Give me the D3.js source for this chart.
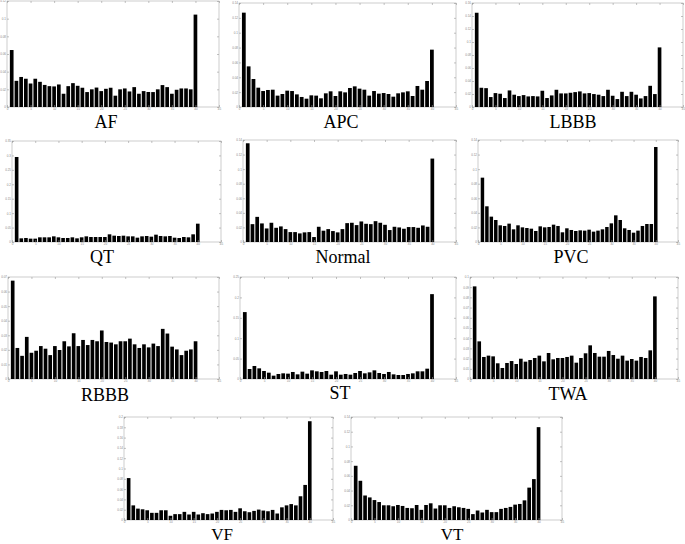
<!DOCTYPE html>
<html><head><meta charset="utf-8">
<script src="https://cdn.jsdelivr.net/npm/d3@7"></script>
<style>body{margin:0;background:#fff}svg{display:block}</style>
</head><body>
<svg id="c" width="685" height="544"></svg>
<script>
const bins = d3.range(1, 41);
const xTicks = [0,5,10,15,20,25,30,35,40,45];

const afValues = [0.0645,0.0296,0.034,0.032,0.0266,0.032,0.0285,0.025,0.0236,0.0233,0.0255,0.015,0.0236,0.027,0.024,0.0218,0.0169,0.020,0.022,0.018,0.0206,0.0218,0.0128,0.020,0.021,0.0176,0.0225,0.015,0.018,0.017,0.0169,0.020,0.0248,0.0225,0.015,0.0195,0.021,0.021,0.020,0.1046];
const afTicks = [0,0.02,0.04,0.06,0.08,0.1,0.12];

const apcValues = [0.127,0.0547,0.0377,0.026,0.0215,0.0229,0.0233,0.0153,0.0175,0.022,0.0215,0.017,0.0135,0.0112,0.0157,0.0153,0.0117,0.0184,0.0211,0.0148,0.0211,0.0197,0.0256,0.0278,0.0247,0.0233,0.0153,0.0215,0.018,0.0188,0.0175,0.0139,0.0184,0.0197,0.0211,0.0148,0.0283,0.0233,0.035,0.0772];
const apcTicks = [0,0.02,0.04,0.06,0.08,0.1,0.12,0.14];

const lbbbValues = [0.145,0.0296,0.029,0.0153,0.0214,0.0204,0.0138,0.0255,0.0189,0.0168,0.0183,0.0163,0.0168,0.0163,0.025,0.0138,0.0178,0.0265,0.0209,0.0209,0.0219,0.0229,0.024,0.0209,0.0214,0.0199,0.0189,0.0168,0.0265,0.0173,0.0122,0.0234,0.0168,0.0234,0.0189,0.0132,0.0168,0.0326,0.0199,0.0917];
const lbbbTicks = [0,0.02,0.04,0.06,0.08,0.1,0.12,0.14,0.16];

const qtValues = [0.2946,0.0127,0.0139,0.0116,0.0116,0.0162,0.0162,0.0162,0.0196,0.0162,0.0139,0.0139,0.0162,0.0127,0.0162,0.0196,0.0173,0.0173,0.0173,0.0173,0.0266,0.0219,0.0208,0.0219,0.0196,0.0196,0.015,0.0196,0.0208,0.0185,0.0254,0.0208,0.0196,0.0208,0.015,0.0139,0.0173,0.0162,0.0266,0.0635];
const qtTicks = [0,0.05,0.1,0.15,0.2,0.25,0.3,0.35];

const normalValues = [0.1355,0.0245,0.0345,0.0255,0.0186,0.0264,0.0195,0.0214,0.0177,0.0136,0.0136,0.0118,0.0132,0.0136,0.0068,0.0209,0.0155,0.0177,0.015,0.0132,0.0177,0.0259,0.0264,0.0232,0.0282,0.025,0.0245,0.0286,0.0264,0.0236,0.0164,0.0209,0.02,0.0182,0.0205,0.0205,0.0195,0.0227,0.0209,0.1145];
const normalTicks = [0,0.02,0.04,0.06,0.08,0.1,0.12,0.14];

const pvcValues = [0.0883,0.049,0.0348,0.0302,0.0229,0.022,0.0252,0.0174,0.0229,0.0201,0.0192,0.0183,0.0151,0.0215,0.0201,0.0206,0.0238,0.022,0.0133,0.0188,0.0165,0.0151,0.016,0.0156,0.0169,0.0142,0.0156,0.0174,0.0206,0.0256,0.0366,0.0302,0.0188,0.0165,0.0128,0.0156,0.022,0.0247,0.0247,0.1304];
const pvcTicks = [0,0.02,0.04,0.06,0.08,0.1,0.12,0.14];

const rbbbValues = [0.0675,0.0213,0.0159,0.0289,0.018,0.0194,0.0226,0.0208,0.0164,0.0226,0.0199,0.0259,0.0224,0.0314,0.0226,0.0268,0.0233,0.0268,0.0259,0.0333,0.0254,0.025,0.0238,0.0259,0.0259,0.0277,0.0238,0.0213,0.0238,0.0217,0.0243,0.0226,0.0344,0.0312,0.0222,0.0203,0.0164,0.0194,0.0203,0.0259];
const rbbbTicks = [0,0.01,0.02,0.03,0.04,0.05,0.06,0.07];

const stValues = [0.164,0.0245,0.0319,0.0261,0.0196,0.0155,0.0082,0.0123,0.0139,0.0131,0.0172,0.0114,0.018,0.0131,0.0212,0.0188,0.0172,0.0196,0.0106,0.0188,0.0106,0.0123,0.0106,0.0147,0.0196,0.0139,0.0163,0.0212,0.0147,0.0123,0.0172,0.0114,0.0098,0.0098,0.0123,0.0139,0.0188,0.0188,0.0253,0.208];
const stTicks = [0,0.05,0.1,0.15,0.2,0.25];

const twaValues = [0.0908,0.0369,0.0216,0.0229,0.0222,0.0154,0.0108,0.0157,0.0176,0.0147,0.0199,0.017,0.0186,0.0206,0.0229,0.0173,0.0255,0.0193,0.0206,0.0206,0.0216,0.0229,0.016,0.0206,0.0252,0.033,0.0255,0.0219,0.0219,0.0275,0.0235,0.0199,0.0229,0.018,0.0196,0.018,0.0216,0.0206,0.0281,0.081];
const twaTicks = [0,0.01,0.02,0.03,0.04,0.05,0.06,0.07,0.08,0.09,0.1];

const vfValues = [0.0814,0.0284,0.0221,0.0208,0.0189,0.0139,0.0139,0.0189,0.0189,0.0082,0.0114,0.0114,0.0158,0.0107,0.0158,0.0107,0.0132,0.0114,0.0126,0.0158,0.0196,0.0189,0.0196,0.0158,0.0227,0.017,0.0151,0.0177,0.0202,0.0183,0.017,0.0196,0.0126,0.0246,0.0284,0.0309,0.0284,0.0461,0.0681,0.1918];
const vfTicks = [0,0.02,0.04,0.06,0.08,0.1,0.12,0.14,0.16,0.18,0.2];

const vtValues = [0.0737,0.0533,0.0333,0.0307,0.0271,0.0244,0.02,0.02,0.0187,0.0204,0.0191,0.0164,0.016,0.0204,0.0138,0.0204,0.0227,0.0156,0.02,0.02,0.0164,0.0187,0.0173,0.0164,0.0151,0.008,0.0129,0.0102,0.0138,0.0107,0.0107,0.0151,0.0164,0.0178,0.0209,0.0218,0.0267,0.044,0.0556,0.1262];
const vtTicks = [0,0.02,0.04,0.06,0.08,0.1,0.12,0.14];

// layout (box: x0,y0,x1,y1 ; label: cx, baseline, size)
const panels = [
  {name:"AF",     values:afValues,     ticks:afTicks,     box:[7,1,219,107],     label:[106,128,18]},
  {name:"APC",    values:apcValues,    ticks:apcTicks,    box:[239,3,456,107],   label:[341,128,18]},
  {name:"LBBB",   values:lbbbValues,   ticks:lbbbTicks,   box:[472,3,683,107],   label:[573,128,18]},
  {name:"QT",     values:qtValues,     ticks:qtTicks,     box:[12,141,221,242],  label:[102,263,18]},
  {name:"Normal", values:normalValues, ticks:normalTicks, box:[243,140,456,242], label:[343,263,18]},
  {name:"PVC",    values:pvcValues,    ticks:pvcTicks,    box:[478,140,678,242], label:[571,263,18]},
  {name:"RBBB",   values:rbbbValues,   ticks:rbbbTicks,   box:[8,277,219,379],   label:[105,401,18]},
  {name:"ST",     values:stValues,     ticks:stTicks,     box:[240,277,456,379], label:[340,399,18]},
  {name:"TWA",    values:twaValues,    ticks:twaTicks,    box:[470,277,678,379], label:[568,400,18]},
  {name:"VF",     values:vfValues,     ticks:vfTicks,     box:[124,417,333,520], label:[222,540,17]},
  {name:"VT",     values:vtValues,     ticks:vtTicks,     box:[351,417,562,520], label:[452,540,17]}
];

const svg = d3.select("#c");
const fmt = d => d === 0 ? "0" : String(+d.toFixed(3));

panels.forEach(p => {
  const [x0,y0,x1,y1] = p.box;
  const x = d3.scaleLinear().domain([0,45]).range([x0,x1]);
  const y = d3.scaleLinear().domain([0, p.ticks[p.ticks.length-1]]).range([y1,y0]);
  const g = svg.append("g");

  g.append("rect").attr("x",x0).attr("y",y0).attr("width",x1-x0).attr("height",y1-y0)
    .attr("fill","#fff").attr("stroke","#b8b8b8").attr("stroke-width",0.7);

  const bw = x(0.78) - x(0);
  g.selectAll("rect.bar").data(p.values).join("rect").attr("class","bar")
    .attr("x",(d,i)=>x(bins[i]) - bw/2).attr("width",bw)
    .attr("y",d=>y(d)).attr("height",d=>y(0)-y(d))
    .attr("fill","#000");

  const style = sel => {
    sel.select(".domain").remove();
    sel.selectAll(".tick line").attr("stroke","#999").attr("stroke-width",0.6);
    sel.selectAll(".tick text").attr("fill","#888").attr("font-size",3)
      .attr("font-family","Liberation Sans, Arial, sans-serif");
  };
  g.append("g").attr("transform",`translate(0,${y1})`)
    .call(d3.axisBottom(x).tickValues(xTicks).tickSize(-2).tickPadding(1).tickFormat(fmt)).call(style);
  g.append("g").attr("transform",`translate(0,${y0})`)
    .call(d3.axisTop(x).tickValues(xTicks).tickSize(-2).tickFormat("")).call(style);
  g.append("g").attr("transform",`translate(${x0},0)`)
    .call(d3.axisLeft(y).tickValues(p.ticks).tickSize(-2).tickPadding(1).tickFormat(fmt)).call(style);
  g.append("g").attr("transform",`translate(${x1},0)`)
    .call(d3.axisRight(y).tickValues(p.ticks).tickSize(-2).tickFormat("")).call(style);

  g.append("text").attr("x",p.label[0]).attr("y",p.label[1])
    .attr("text-anchor","middle")
    .attr("font-family","Liberation Serif, Times New Roman, serif")
    .attr("font-size",p.label[2]).attr("fill","#000").text(p.name);
});
</script>
</body></html>
